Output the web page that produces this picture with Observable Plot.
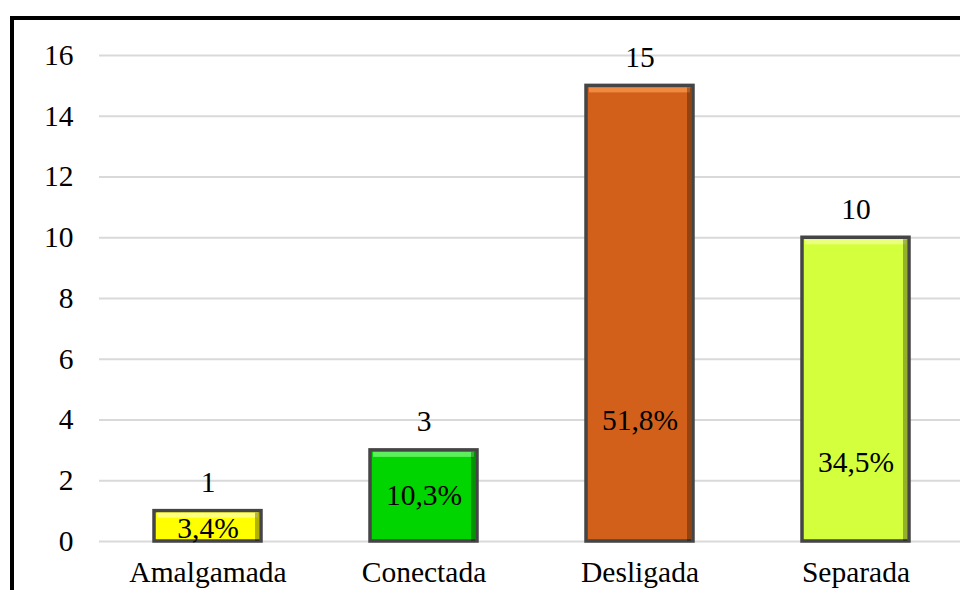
<!DOCTYPE html>
<html>
<head>
<meta charset="utf-8">
<script src="https://cdn.jsdelivr.net/npm/d3@7"></script>
<script src="https://cdn.jsdelivr.net/npm/@observablehq/plot@0.6"></script>
<style>
  html, body { margin: 0; padding: 0; background: #fff; }
  #wrap { position: relative; width: 960px; height: 590px; overflow: hidden; }
  #frame { position: absolute; left: 10px; top: 16px; width: 1000px; height: 1000px;
           border-top: 4px solid #000; border-left: 4px solid #000; box-sizing: border-box; pointer-events: none; }
  #chart { position: absolute; left: 0; top: 0; }
</style>
</head>
<body>
<div id="wrap"><div id="chart"></div><div id="frame"></div></div>
<script>
const categories = ["Amalgamada", "Conectada", "Desligada", "Separada"];
const counts = [1, 3, 15, 10];
const percentLabels = ["3,4%", "10,3%", "51,8%", "34,5%"];
const percentLabelAt = [0.43, 1.5, 3.97, 2.6];
const colors = ["#ffff00", "#00d500", "#d2601a", "#d4ff3c"];
const highlights = ["#ffff80", "#5cf05c", "#f08a40", "#eaff80"];
const yTicks = [0, 2, 4, 6, 8, 10, 12, 14, 16];

const data = categories.map((c, i) => ({
  cat: c, n: counts[i], pct: percentLabels[i], at: percentLabelAt[i],
  color: colors[i], hi: highlights[i]
}));

const font = "'Liberation Serif', 'Times New Roman', serif";
const fs = 29.5;

const chart = Plot.plot({
  width: 960,
  height: 590,
  marginLeft: 99,
  marginRight: -4,
  marginTop: 55,
  marginBottom: 49,
  style: { fontFamily: font, fontSize: fs + "px", color: "#000", background: "transparent" },
  x: { domain: categories, paddingInner: 0.505, paddingOuter: 0.2525, label: null },
  y: { domain: [0, 16], label: null },
  marks: [
    Plot.ruleY(yTicks, { stroke: "#d9d9d9", strokeWidth: 2 }),
    Plot.barY(data, { x: "cat", y: "n", fill: "color", stroke: "#454545", strokeWidth: 3.5 }),
    // top bevel highlight
    Plot.rectY(data, { x: "cat", y1: "n", y2: "n", fill: "hi", insetTop: 2, insetBottom: -7, insetLeft: 3, insetRight: 3 }),
    // right side shadow
    Plot.barY(data, { x: "cat", y: "n", fill: "#000", fillOpacity: 0.3, insetLeft: 101, insetRight: 2, insetTop: 2 }),
    Plot.text(data, { x: "cat", y: "n", text: d => String(d.n), lineAnchor: "bottom", dy: -19, fontSize: fs, fill: "#000" }),
    Plot.text(data, { x: "cat", y: "at", text: "pct", fontSize: fs, fill: "#000" }),
    Plot.axisY(yTicks, { tickSize: 0, tickPadding: 26, fontSize: fs, label: null }),
    Plot.axisX({ tickSize: 0, tickPadding: 20, fontSize: fs, label: null })
  ]
});

document.getElementById("chart").appendChild(chart);
</script>
</body>
</html>
